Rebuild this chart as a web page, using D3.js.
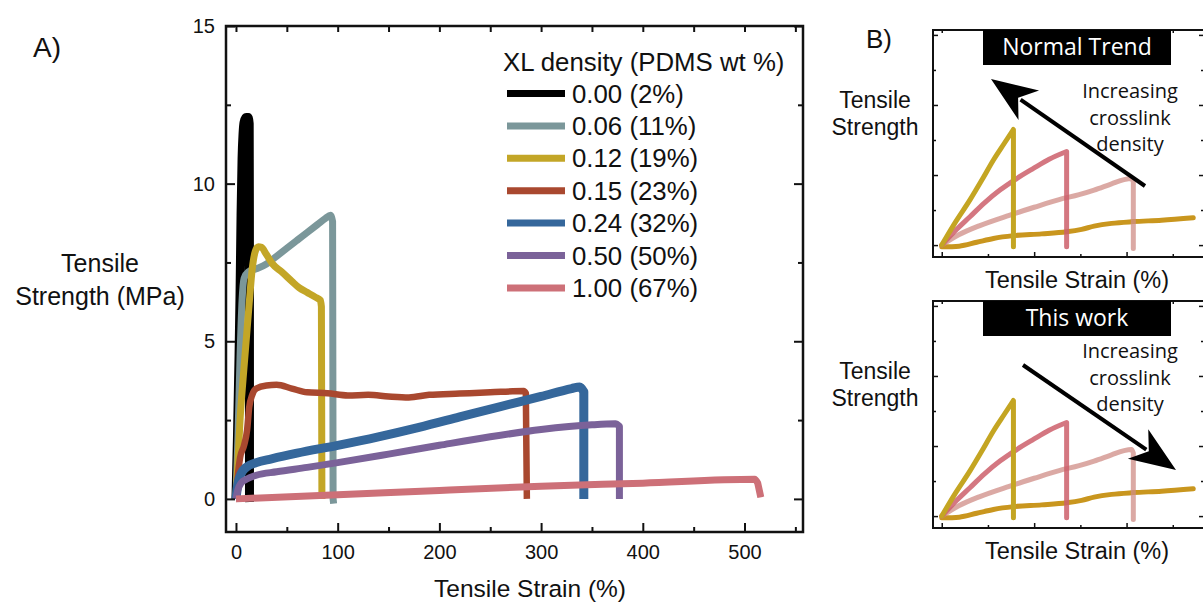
<!DOCTYPE html>
<html>
<head>
<meta charset="utf-8">
<script src="https://cdn.jsdelivr.net/npm/d3@7"></script>
<style>
  body { margin: 0; background: #fff; }
  text { font-family: "Liberation Sans", Arial, sans-serif; fill: #111; }
  .myr { font-family: "Open Sans", "Noto Sans", sans-serif; }
</style>
</head>
<body>
<div id="chart"></div>
<script>
// panel A data : [strain %, stress MPa]
var labels = ["0.00 (2%)", "0.06 (11%)", "0.12 (19%)", "0.15 (23%)", "0.24 (32%)", "0.50 (50%)", "1.00 (67%)"];
var xl000 = [[0,0],[1.5,2],[3,4.5],[4,6.5],[5,9],[6,10.8],[7,11.6],[8,11.95],[10,12.1],[12,12.1],[13,11.9],[13.2,9],[13.3,0],[13.5,-0.1]];
var xl006 = [[0,0],[2,2],[4,4.5],[6,6.3],[8,7.0],[12,7.2],[20,7.3],[30,7.45],[40,7.7],[50,7.95],[60,8.2],[70,8.45],[80,8.7],[88,8.9],[93,9.0],[95,8.8],[95.5,0],[96,-0.15]];
var xl012 = [[0,0],[2,1.2],[4,2.5],[7,3.8],[10,5],[13,6.2],[16,7.3],[19,7.85],[22,8.0],[25,7.98],[30,7.75],[36,7.45],[45,7.2],[55,6.9],[62,6.7],[70,6.55],[78,6.4],[83,6.3],[84,6.1],[84.5,0]];
var xl015 = [[0,0],[2,0.8],[4,1.3],[8,1.7],[11,2.2],[13,2.9],[16,3.3],[20,3.5],[30,3.6],[40,3.62],[55,3.5],[70,3.38],[90,3.35],[110,3.28],[130,3.3],[150,3.25],[170,3.22],[190,3.3],[220,3.34],[250,3.38],[283,3.42],[285,3.35],[286,0]];
var xl024 = [[0,0],[2,0.5],[5,0.8],[10,1.0],[20,1.15],[35,1.27],[60,1.45],[100,1.7],[140,1.97],[180,2.27],[220,2.6],[260,2.93],[300,3.25],[330,3.5],[338,3.55],[342,3.4],[342,0]];
var xl050 = [[0,0],[2,0.3],[5,0.5],[10,0.62],[20,0.75],[40,0.86],[70,1.0],[100,1.15],[150,1.42],[200,1.7],[250,1.97],[300,2.2],[350,2.35],[373,2.38],[377,2.3],[377,0]];
var xl100 = [[0,0],[100,0.13],[200,0.27],[300,0.4],[400,0.5],[510,0.62],[513,0.5],[516,0.05]];
var xTicks = [0, 100, 200, 300, 400, 500];
var yTicks = [0, 5, 10, 15];

// panel B sketch curves (arbitrary units)
var sketchGold = [[0,0],[0.5,0.6],[1.13,1.29],[1.6,1.85],[2.07,2.43],[2.5,2.9],[2.87,3.3],[2.87,-0.05]];
var sketchPink = [[0,0],[0.6,0.45],[1.13,0.81],[1.7,1.2],[2.33,1.57],[3,1.9],[3.67,2.19],[4.3,2.45],[5,2.67],[5,-0.05]];
var sketchLight = [[0,0],[0.7,0.3],[1.5,0.55],[2.7,0.85],[3.7,1.08],[4.7,1.3],[5.5,1.44],[6.1,1.57],[6.8,1.75],[7.3,1.87],[7.6,1.9],[7.67,1.8],[7.67,-0.1]];
var sketchOrange = [[0,-0.05],[0.7,-0.03],[1.4,0.08],[2.07,0.19],[2.87,0.27],[4,0.32],[5,0.38],[5.6,0.45],[6.1,0.54],[6.8,0.62],[7.67,0.67],[8.8,0.71],[10.07,0.78]];

var series = [xl000, xl006, xl012, xl015, xl024, xl050, xl100];
var colors = ["#000000", "#7b979a", "#c3a627", "#a9482f", "#35679b", "#7b6299", "#cd7078"];
var widths = [9, 7, 7, 6.5, 9, 7, 7];

var svg = d3.select("#chart").append("svg")
    .attr("width", 1203)
    .attr("height", 603);
svg.append("rect").attr("width", 1203).attr("height", 603).attr("fill", "#fff");

// smooth while strain increases, then straight down to the break
function curvePath(pts, xs, ys) {
    var n = 1;
    while (n < pts.length && pts[n][0] > pts[n - 1][0] && pts[n][1] >= pts[n - 1][1] - 0.3) n++;
    var smooth = d3.line().x(function(d) { return xs(d[0]); }).y(function(d) { return ys(d[1]); })
        .curve(d3.curveMonotoneX);
    var s = smooth(pts.slice(0, n));
    pts.slice(n).forEach(function(d) { s += "L" + xs(d[0]) + "," + ys(d[1]); });
    return s;
}

// ---------- panel A ----------
var pLeft = 226, pRight = 803, pTop = 26, pBottom = 532;
var x = d3.scaleLinear().domain([-9.8, 557.5]).range([pLeft, pRight]);
var y = d3.scaleLinear().domain([-1.05, 15]).range([pBottom, pTop]);

function frameAxes(g, xs, ys, opt) {
    var majX = opt.majX, minX = opt.minX, majY = opt.majY, minY = opt.minY;
    var x0 = xs.range()[0], x1 = xs.range()[1], y0 = ys.range()[0], y1 = ys.range()[1];
    g.append("g").attr("transform", "translate(0," + y0 + ")")
        .call(d3.axisBottom(xs).tickValues(minX).tickSize(-opt.minLen).tickFormat(""));
    g.append("g").attr("class", "lab").attr("transform", "translate(0," + y0 + ")")
        .call(d3.axisBottom(xs).tickValues(majX).tickSize(-opt.majLen).tickPadding(opt.padX)
            .tickFormat(opt.labels ? d3.format("d") : ""));
    g.append("g").attr("transform", "translate(" + x0 + ",0)")
        .call(d3.axisLeft(ys).tickValues(minY).tickSize(-opt.minLen).tickFormat(""));
    g.append("g").attr("class", "lab").attr("transform", "translate(" + x0 + ",0)")
        .call(d3.axisLeft(ys).tickValues(majY).tickSize(-opt.majLen).tickPadding(opt.padY)
            .tickFormat(opt.labels ? d3.format("d") : ""));
    g.append("g").attr("transform", "translate(0," + y1 + ")")
        .call(d3.axisTop(xs).tickValues(majX.concat(minX)).tickSize(-opt.topLen).tickFormat(""));
    g.append("g").attr("transform", "translate(" + x1 + ",0)")
        .call(d3.axisRight(ys).tickValues(majY).tickSize(-opt.majLen).tickFormat(""));
    g.append("g").attr("transform", "translate(" + x1 + ",0)")
        .call(d3.axisRight(ys).tickValues(minY).tickSize(-opt.minLen).tickFormat(""));
    g.selectAll(".domain").remove();
    g.selectAll(".tick line").attr("stroke", "#111").attr("stroke-width", opt.tickW);
    g.selectAll(".lab").attr("font-size", opt.fontSize).attr("font-family", null);
    g.selectAll(".tick text").attr("fill", "#111").style("font-size", opt.fontSize + "px");
    g.append("rect")
        .attr("x", x0).attr("y", y1)
        .attr("width", x1 - x0).attr("height", y0 - y1)
        .attr("fill", "none").attr("stroke", "#111").attr("stroke-width", opt.frameW);
}

var gA = svg.append("g");
series.forEach(function(s, i) {
    gA.append("path")
        .attr("d", curvePath(s, x, y))
        .attr("fill", "none")
        .attr("stroke", colors[i])
        .attr("stroke-width", widths[i])
        .attr("stroke-linejoin", "round")
        .attr("stroke-linecap", "butt");
});

frameAxes(gA, x, y, {
    majX: xTicks, minX: [50, 150, 250, 350, 450, 550],
    majY: yTicks, minY: [2.5, 7.5, 12.5],
    majLen: 9, minLen: 5, topLen: 6, padX: 13, padY: 11,
    tickW: 2, frameW: 2.5, fontSize: 20, labels: true
});

// legend
var lg = gA.append("g");
lg.append("text").attr("x", 503).attr("y", 71).attr("font-size", 25.8).text("XL density (PDMS wt %)");
labels.forEach(function(l, i) {
    var yy = 93.5 + i * 32.4;
    lg.append("line").attr("x1", 507).attr("x2", 565).attr("y1", yy).attr("y2", yy)
        .attr("stroke", colors[i]).attr("stroke-width", 7);
    lg.append("text").attr("x", 572).attr("y", yy + 9).attr("font-size", 25.8).text(l);
});

svg.append("text").attr("x", 530).attr("y", 597).attr("text-anchor", "middle")
    .attr("font-size", 24.5).text("Tensile Strain (%)");
svg.append("text").attr("x", 100).attr("y", 272).attr("text-anchor", "middle")
    .attr("font-size", 25).text("Tensile");
svg.append("text").attr("x", 100).attr("y", 305).attr("text-anchor", "middle")
    .attr("font-size", 25).text("Strength (MPa)");
svg.append("text").attr("x", 33).attr("y", 57).attr("font-size", 28).text("A)");

// ---------- panel B ----------
svg.append("text").attr("x", 866).attr("y", 48).attr("font-size", 26).text("B)");

function sketch(offsetY, title, arrowFrom, arrowTo, textY) {
    var g = svg.append("g");
    var xs = d3.scaleLinear().domain([-0.35, 10.5]).range([933, 1204]);
    var ys = d3.scaleLinear().domain([-0.34, 6.14]).range([257 + offsetY, 30 + offsetY]);
    var curves = [
        { d: sketchOrange, c: "#c9961e", o: 1, w: 5 },
        { d: sketchLight, c: "#cf8c86", o: 0.75, w: 5 },
        { d: sketchPink, c: "#cc5f6b", o: 0.85, w: 5 },
        { d: sketchGold, c: "#c4a522", o: 1, w: 5 }
    ];
    curves.forEach(function(c) {
        g.append("path").attr("d", curvePath(c.d, xs, ys)).attr("fill", "none")
            .attr("stroke", c.c).attr("stroke-opacity", c.o).attr("stroke-width", c.w)
            .attr("stroke-linejoin", "round").attr("stroke-linecap", "round");
    });

    frameAxes(g, xs, ys, {
        majX: [0, 3.7, 7.4], minX: [1.85, 5.55, 9.25],
        majY: [0, 2, 4, 6], minY: [1, 3, 5],
        majLen: 5, minLen: 3, topLen: 3, padX: 3, padY: 3,
        tickW: 1.5, frameW: 2, fontSize: 10, labels: false
    });

    g.append("rect").attr("x", 983).attr("y", 30 + offsetY).attr("width", 188).attr("height", 35)
        .attr("fill", "#000");
    g.append("text").attr("class", "myr").attr("x", 1077).attr("y", 55 + offsetY)
        .attr("text-anchor", "middle").attr("font-size", 23).style("fill", "#fff").text(title);

    // arrow
    var dx = arrowTo[0] - arrowFrom[0], dy = arrowTo[1] - arrowFrom[1];
    var len = Math.sqrt(dx * dx + dy * dy), ux = dx / len, uy = dy / len;
    var hl = 42, hw = 18;
    var bx = arrowTo[0] - ux * hl, by = arrowTo[1] - uy * hl;
    g.append("line").attr("x1", arrowFrom[0]).attr("y1", arrowFrom[1])
        .attr("x2", bx + ux * 6).attr("y2", by + uy * 6)
        .attr("stroke", "#000").attr("stroke-width", 4);
    g.append("path")
        .attr("d", "M" + arrowTo[0] + "," + arrowTo[1] +
            "L" + (bx - uy * hw - ux * 4) + "," + (by + ux * hw - uy * 4) +
            "L" + (bx + ux * 9) + "," + (by + uy * 9) +
            "L" + (bx + uy * hw - ux * 4) + "," + (by - ux * hw - uy * 4) + "Z")
        .attr("fill", "#000");

    ["Increasing", "crosslink", "density"].forEach(function(t, i) {
        g.append("text").attr("class", "myr").attr("x", 1130).attr("y", textY + i * 26.7)
            .attr("text-anchor", "middle").attr("font-size", 20).text(t);
    });

    g.append("text").attr("x", 875).attr("y", 108 + offsetY).attr("text-anchor", "middle")
        .attr("font-size", 23).text("Tensile");
    g.append("text").attr("x", 875).attr("y", 135 + offsetY).attr("text-anchor", "middle")
        .attr("font-size", 23).text("Strength");
    g.append("text").attr("x", 1077).attr("y", 288 + offsetY).attr("text-anchor", "middle")
        .attr("font-size", 23.5).text("Tensile Strain (%)");
}

sketch(0, "Normal Trend", [1145, 186], [991, 79], 98);
sketch(271, "This work", [1023, 365], [1176, 470], 358);
</script>
</body>
</html>
